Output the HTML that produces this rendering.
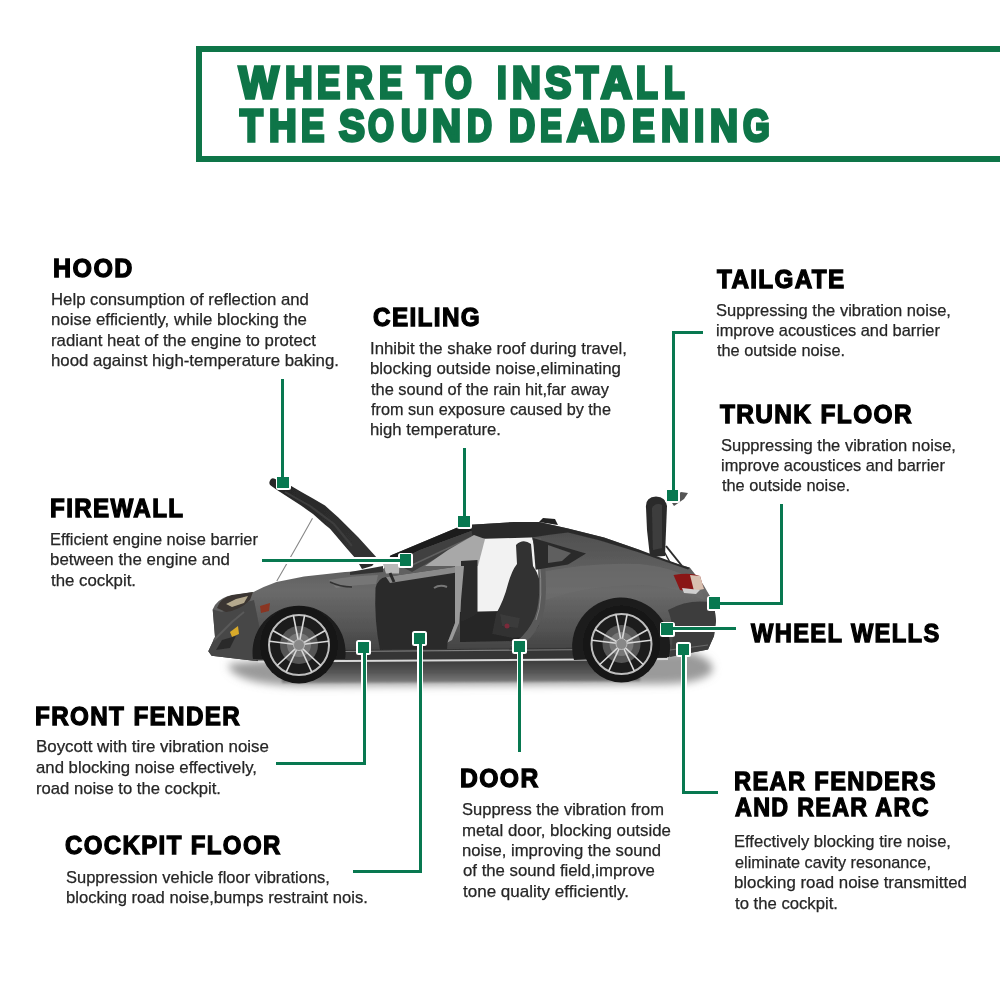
<!DOCTYPE html>
<html><head><meta charset="utf-8">
<style>
html,body{margin:0;padding:0;background:#fff;}
body{width:1000px;height:1000px;position:relative;overflow:hidden;font-family:"Liberation Sans",sans-serif;}
.t{position:absolute;white-space:pre;line-height:1;transform-origin:0 0;}
.box{position:absolute;left:196px;top:46px;width:820px;height:104px;border:6px solid #0e7548;}
.ln{position:absolute;background:#087850;}
.wo{position:absolute;background:#fff;}
svg.car{position:absolute;left:0;top:0;}
</style></head>
<body>
<div class="box"></div>
<svg class="car" width="1000" height="1000" viewBox="0 0 1000 1000">
<defs>
<linearGradient id="shadow" gradientUnits="userSpaceOnUse" x1="0" y1="658" x2="0" y2="686">
<stop offset="0" stop-color="#383838"/><stop offset="0.5" stop-color="#555"/><stop offset="0.85" stop-color="#7a7a7a"/><stop offset="1" stop-color="#aaa"/>
</linearGradient>
<linearGradient id="shadowF" gradientUnits="userSpaceOnUse" x1="215" y1="0" x2="265" y2="0">
<stop offset="0" stop-color="#fff"/><stop offset="1" stop-color="#fff" stop-opacity="0"/>
</linearGradient>
<linearGradient id="body" gradientUnits="userSpaceOnUse" x1="0" y1="520" x2="0" y2="662">
<stop offset="0" stop-color="#4a4a4a"/>
<stop offset="0.3" stop-color="#5c5c5c"/>
<stop offset="0.5" stop-color="#6a6a6a"/>
<stop offset="0.75" stop-color="#555"/>
<stop offset="1" stop-color="#3a3a3a"/>
</linearGradient>
<linearGradient id="hood" gradientUnits="userSpaceOnUse" x1="270" y1="480" x2="378" y2="558">
<stop offset="0" stop-color="#262626"/><stop offset="1" stop-color="#333"/>
</linearGradient>
<radialGradient id="rimbg" cx="0.5" cy="0.5" r="0.5">
<stop offset="0" stop-color="#6a6a6a"/><stop offset="0.45" stop-color="#4a4a4a"/><stop offset="0.8" stop-color="#1e1e1e"/><stop offset="1" stop-color="#151515"/>
</radialGradient>
<filter id="blur4" x="-20%" y="-50%" width="140%" height="200%"><feGaussianBlur stdDeviation="4"/></filter>
<filter id="blur1" x="-10%" y="-50%" width="120%" height="200%"><feGaussianBlur stdDeviation="1.2"/></filter>
<filter id="soft" x="-5%" y="-5%" width="110%" height="110%"><feGaussianBlur stdDeviation="0.5"/></filter>
<g id="wheel">
<circle r="38.5" fill="#141414"/>
<circle r="31" fill="#1c1c1c"/>
<circle r="19" fill="#555"/>
<circle r="12" fill="#777"/>
<circle r="30" fill="none" stroke="#bdbdbd" stroke-width="2"/>
<g stroke="#d8d8d8" stroke-width="1.6" stroke-linecap="round">
<g id="sp"><line x1="-0.8" y1="-5" x2="-5.5" y2="-29"/><line x1="0.8" y1="-5" x2="5.5" y2="-29"/></g>
<use href="#sp" transform="rotate(72)"/><use href="#sp" transform="rotate(144)"/><use href="#sp" transform="rotate(216)"/><use href="#sp" transform="rotate(288)"/>
</g>
<circle r="5.5" fill="#888" stroke="#bbb" stroke-width="1"/>
</g>
</defs>
<g filter="url(#soft)">
<!-- ground shadow -->
<path d="M228 664 Q300 656 420 658 L690 652 Q716 660 712 672 Q700 684 660 684 L300 686 Q232 684 228 664 Z" fill="#9a9a9a" filter="url(#blur4)"/>
<path d="M282 660 L640 656 L640 681 L282 683 Z" fill="url(#shadow)" filter="url(#blur1)"/>
<!-- hood strut -->
<path d="M312.5 518.3 Q296 548 276.8 581" stroke="#888" stroke-width="1.1" fill="none"/>
<!-- raised hood -->
<path d="M269.8 481 Q271 477.5 274 478.6 L290.8 485.8 L301 491.8 L313 498.4 L325 505.6 L338.4 517.6 L358 537 L378 559 L356 559 L346.8 548.4 L330 528.8 L325 524.8 L313 514 L301 505.6 L289 497.8 L277 490 L271 485.8 Q268.5 484 269.8 481 Z" fill="url(#hood)"/>
<path d="M285 492 L310 506 L334 524 L352 546" stroke="#3e3e3e" stroke-width="2" fill="none"/>
<!-- trunk lid raised + struts -->
<path d="M666 546 L682 566" stroke="#2a2a2a" stroke-width="2"/>
<path d="M660 544 L672 566" stroke="#2a2a2a" stroke-width="1.5"/>
<path d="M646 508 Q645 497 656 496.5 Q666 497 667 506 L665 556 L650 557 L647 530 Z" fill="#2c2c2c"/>
<path d="M652 508 Q656 502 662 505 L662 548 L653 550 Z" fill="#3e3e3e"/>
<path d="M670 500 L681 492 L688 493 L684 499 L674 506 Z" fill="#555"/>
<!-- main body -->
<path d="M208.3 651.3 L215 637 L212.7 609.5 Q216 600 228 596 L253.4 592 Q265 586 276.5 582 L304 576.5 L345 572 L383 570 L390.5 555.5 L455 528.5 Q462 525 470.8 524.8 L514 522 L539 522 L568 528.4 L604 537.4 L640 550 L652.5 556.5 L678 564 L690 567.7 L703.5 585 L714 603 L716 621 L714 636 L708 649.5 L667.5 657 L575 660 L345 662 L256 661 L211.6 655.7 Z" fill="url(#body)"/>
<!-- shoulder highlight rear -->
<path d="M541 572 Q590 562 640 564 Q680 568 700 585 L704 600 Q670 585 640 585 Q590 585 545 600 Z" fill="#6e6e6e" opacity="0.6"/>
<!-- front face darker -->
<path d="M208.3 651.3 L215 637 L212.7 609.5 L222 612 L240 604 L254 600 L262 640 L256 661 L211.6 655.7 Z" fill="#474747"/>
<path d="M214 640 L232 622 L244 612" stroke="#5a5a5a" stroke-width="2" fill="none"/>
<!-- headlight -->
<path d="M217 608 Q220 598 232 595 L253 592 L250 600 Q240 610 226 612 Z" fill="#3a3530"/>
<path d="M226 604 L236 599 L248 596 L244 603 L232 607 Z" fill="#b5a98e"/>
<!-- fog & marker -->
<path d="M230 632 L238 626 L239 634 L232 637 Z" fill="#d9aa2a"/>
<path d="M222 640 L236 636 L230 648 L216 650 Z" fill="#2a2a2a"/>
<path d="M260 606 L270 603 L269 611 L261 613 Z" fill="#8a3520"/>
<!-- front fender vent line -->
<path d="M329 580 Q350 576 378 575 L376 584 Q352 585 336 588 Z" fill="#7a7a7a" opacity="0.8"/><path d="M330 582 Q340 587 352 587" stroke="#333" stroke-width="1.5" fill="none"/>
<!-- rear bumper -->
<path d="M668 610 Q690 598 714 603 L716 621 L714 636 L708 649.5 L670 657 Q676 630 668 610 Z" fill="#3e3e3e"/>
<path d="M670 650 L708 645" stroke="#888" stroke-width="1" opacity="0.6"/>
<!-- tail light -->
<path d="M673.5 575 Q690 572 700 576 L703.5 588 Q690 592 680 590 Z" fill="#8a1818"/>
<path d="M690 575 L700 576 L704 589 L694 591 Z" fill="#d8c0b0"/><path d="M682 588 L700 590 L696 594 L684 593 Z" fill="#cfcfcf"/>
<!-- A pillar & windshield -->
<path d="M383 570 L390.5 555.5 L455 528.5 Q462 525 470.8 524.8 L474 530 L420 550 L394 563 Z" fill="#1e1e1e"/>
<path d="M394 563 L420 550 L474 530 L478 540 L440 556 L412 572 Z" fill="#404040"/>
<path d="M410 566 L470 538" stroke="#606060" stroke-width="1.5"/>
<!-- roof band -->
<path d="M470.8 524.8 L514 522 L539 522 L568 528.4 L604 537.4 L640 550 L678 564 L690 567.7 L688 569.5 L640 552.8 L600 540.5 L568 532.5 L548 535 L532 537.5 L473 540 Z" fill="#2c2c2c"/>
<path d="M539 522 L543 518 L555 519 L558 525 Z" fill="#222"/>
<!-- door opening -->
<path d="M476 539 L532 537.5 L538 560 L539 612 L476 614 Z" fill="#f2f2f2"/>
<!-- interior floor -->
<path d="M460 612 L540 610 L530 634 L514 641 L460 642 Z" fill="#262626"/>
<!-- seat -->
<path d="M516 545 Q523 538 531 544 L533 566 Q542 578 541 600 L539 625 Q533 638 512 638 L492 634 L496 614 Q504 600 508 584 Q512 570 517 564 Z" fill="#303030"/>
<path d="M500 614 L520 618 L518 628 L502 626 Z" fill="#3a3a3a"/>
<circle cx="507" cy="626" r="2.5" fill="#7a2a3a"/>
<!-- door jamb C -->
<path d="M532 537.5 L541 538 Q546 560 546 590 Q546 630 520 646 L510 646 Q538 628 539 595 Q540 560 532 537.5 Z" fill="#5a5a5a"/>
<path d="M539 560 Q544 600 536 620" stroke="#888" stroke-width="1" fill="none"/>
<!-- rear quarter window -->
<path d="M533 538 L586 553.6 L568 564.4 L535.6 569.8 Z" fill="#2a2a2a"/>
<path d="M548 545 L571 553 L562 561 L548 563 Z" fill="#5e5e5e"/>
<!-- open door glass -->
<path d="M425 566 L448 550 L474 535 L485 539 L478 566 Z" fill="#a8a8a8"/>
<path d="M461 561 L477.5 560 L477.5 614 L461 622 Z" fill="#2a2a2a"/>
<!-- open door panel -->
<path d="M375.5 588 Q378 578 386 577 L461 566 L455 623 L447.5 642.5 L447 649 L380 650 Q374 620 375.5 588 Z" fill="#2a2a2a"/>
<path d="M386 577 L461 566 L460 572 L390 583 Z" fill="#8a8a8a"/>
<path d="M455 566 L464 566 L459 623 L452 640 L447.5 642.5 L455 623 Z" fill="#9a9a9a"/>
<path d="M434 588 Q440 584 447 587" stroke="#777" stroke-width="2" fill="none"/>
<!-- mirror -->
<path d="M383 564 Q390 562 399.5 563 L399 573.5 L386 573.5 Z" fill="#b8b8b8"/>
<path d="M390 573 L394 582" stroke="#2a2a2a" stroke-width="3"/>
<!-- cowl/wipers -->
<path d="M350 572 L383 566 L383 572 L350 575 Z" fill="#333"/><path d="M356 559 L362 569 L372 566 L378 559 Z" fill="#2a2a2a"/>
<!-- sill -->
<path d="M345 650 L667 647 L667 658 L575 660 L345 662 Z" fill="#343434"/>
<path d="M345 651.5 L667 649" stroke="#808080" stroke-width="1.2"/>
<path d="M258 661.5 L668 659" stroke="#d8d8d8" stroke-width="2"/>
<!-- wheel arches -->
<path d="M253 659 A46.5 46.5 0 1 1 345 659 Z" fill="#1a1a1a"/>
<path d="M574 660 A49 49 0 1 1 669 657 Z" fill="#1e1e1e"/>
<use href="#wheel" transform="translate(299 645)"/>
<use href="#wheel" transform="translate(621.5 644)"/>
</g>
</svg>

<div class="wo" style="left:279.60px;top:377.70px;width:6.20px;height:105.90px"></div>
<div class="wo" style="left:275.50px;top:475.00px;width:15.00px;height:15.00px;border-radius:2.5px"></div>
<div class="wo" style="left:461.20px;top:446.40px;width:6.20px;height:76.20px"></div>
<div class="wo" style="left:456.50px;top:514.20px;width:15.00px;height:15.00px;border-radius:2.5px"></div>
<div class="wo" style="left:260.40px;top:557.40px;width:147.70px;height:6.20px"></div>
<div class="wo" style="left:398.20px;top:552.50px;width:15.00px;height:15.00px;border-radius:2.5px"></div>
<div class="wo" style="left:669.90px;top:329.50px;width:34.20px;height:6.20px"></div>
<div class="wo" style="left:669.90px;top:329.40px;width:6.20px;height:167.20px"></div>
<div class="wo" style="left:665.20px;top:488.00px;width:15.00px;height:15.00px;border-radius:2.5px"></div>
<div class="wo" style="left:777.90px;top:502.40px;width:6.20px;height:103.70px"></div>
<div class="wo" style="left:712.40px;top:599.90px;width:71.70px;height:6.20px"></div>
<div class="wo" style="left:707.00px;top:595.50px;width:15.00px;height:15.00px;border-radius:2.5px"></div>
<div class="wo" style="left:665.40px;top:625.60px;width:72.20px;height:6.20px"></div>
<div class="wo" style="left:659.50px;top:621.50px;width:15.00px;height:15.00px;border-radius:2.5px"></div>
<div class="wo" style="left:680.65px;top:648.40px;width:6.20px;height:147.20px"></div>
<div class="wo" style="left:682.15px;top:789.40px;width:36.95px;height:6.20px"></div>
<div class="wo" style="left:676.25px;top:642.25px;width:15.00px;height:15.00px;border-radius:2.5px"></div>
<div class="wo" style="left:516.50px;top:644.40px;width:6.20px;height:109.20px"></div>
<div class="wo" style="left:512.00px;top:638.70px;width:15.00px;height:15.00px;border-radius:2.5px"></div>
<div class="wo" style="left:416.90px;top:636.40px;width:6.20px;height:238.50px"></div>
<div class="wo" style="left:351.40px;top:868.70px;width:71.70px;height:6.20px"></div>
<div class="wo" style="left:412.25px;top:631.10px;width:15.00px;height:15.00px;border-radius:2.5px"></div>
<div class="wo" style="left:360.90px;top:645.40px;width:6.20px;height:121.60px"></div>
<div class="wo" style="left:274.40px;top:760.80px;width:92.70px;height:6.20px"></div>
<div class="wo" style="left:356.20px;top:639.80px;width:15.00px;height:15.00px;border-radius:2.5px"></div>
<div class="ln" style="left:281.20px;top:379.30px;width:3.0px;height:102.70px"></div>
<div class="ln" style="left:277.40px;top:476.90px;width:11.2px;height:11.2px"></div>
<div class="ln" style="left:462.80px;top:448.00px;width:3.0px;height:73.00px"></div>
<div class="ln" style="left:458.40px;top:516.10px;width:11.2px;height:11.2px"></div>
<div class="ln" style="left:262.00px;top:559.00px;width:144.50px;height:3.0px"></div>
<div class="ln" style="left:400.10px;top:554.40px;width:11.2px;height:11.2px"></div>
<div class="ln" style="left:671.50px;top:331.10px;width:31.00px;height:3.0px"></div>
<div class="ln" style="left:671.50px;top:331.00px;width:3.0px;height:164.00px"></div>
<div class="ln" style="left:667.10px;top:489.90px;width:11.2px;height:11.2px"></div>
<div class="ln" style="left:779.50px;top:504.00px;width:3.0px;height:100.50px"></div>
<div class="ln" style="left:714.00px;top:601.50px;width:68.50px;height:3.0px"></div>
<div class="ln" style="left:708.90px;top:597.40px;width:11.2px;height:11.2px"></div>
<div class="ln" style="left:667.00px;top:627.20px;width:69.00px;height:3.0px"></div>
<div class="ln" style="left:661.40px;top:623.40px;width:11.2px;height:11.2px"></div>
<div class="ln" style="left:682.25px;top:650.00px;width:3.0px;height:144.00px"></div>
<div class="ln" style="left:683.75px;top:791.00px;width:33.75px;height:3.0px"></div>
<div class="ln" style="left:678.15px;top:644.15px;width:11.2px;height:11.2px"></div>
<div class="ln" style="left:518.10px;top:646.00px;width:3.0px;height:106.00px"></div>
<div class="ln" style="left:513.90px;top:640.60px;width:11.2px;height:11.2px"></div>
<div class="ln" style="left:418.50px;top:638.00px;width:3.0px;height:235.30px"></div>
<div class="ln" style="left:353.00px;top:870.30px;width:68.50px;height:3.0px"></div>
<div class="ln" style="left:414.15px;top:633.00px;width:11.2px;height:11.2px"></div>
<div class="ln" style="left:362.50px;top:647.00px;width:3.0px;height:118.40px"></div>
<div class="ln" style="left:276.00px;top:762.40px;width:89.50px;height:3.0px"></div>
<div class="ln" style="left:358.10px;top:641.70px;width:11.2px;height:11.2px"></div>

<div class="t" style="left:53.00px;top:255.37px;font-size:26.5px;font-weight:bold;color:#000;transform:scaleX(0.9445);-webkit-text-stroke:1.3px #000;letter-spacing:1.5px;">HOOD</div>
<div class="t" style="left:373.00px;top:304.07px;font-size:26.5px;font-weight:bold;color:#000;transform:scaleX(0.9158);-webkit-text-stroke:1.3px #000;letter-spacing:1.5px;">CEILING</div>
<div class="t" style="left:717.00px;top:265.98px;font-size:26.5px;font-weight:bold;color:#000;transform:scaleX(0.9149);-webkit-text-stroke:1.3px #000;letter-spacing:1.5px;">TAILGATE</div>
<div class="t" style="left:720.00px;top:400.98px;font-size:26.5px;font-weight:bold;color:#000;transform:scaleX(0.9218);-webkit-text-stroke:1.3px #000;letter-spacing:1.5px;">TRUNK FLOOR</div>
<div class="t" style="left:50.00px;top:495.17px;font-size:26.5px;font-weight:bold;color:#000;transform:scaleX(0.9118);-webkit-text-stroke:1.3px #000;letter-spacing:1.5px;">FIREWALL</div>
<div class="t" style="left:751.00px;top:620.27px;font-size:26.5px;font-weight:bold;color:#000;transform:scaleX(0.8952);-webkit-text-stroke:1.3px #000;letter-spacing:1.5px;">WHEEL WELLS</div>
<div class="t" style="left:35.00px;top:702.58px;font-size:26.5px;font-weight:bold;color:#000;transform:scaleX(0.9141);-webkit-text-stroke:1.3px #000;letter-spacing:1.5px;">FRONT FENDER</div>
<div class="t" style="left:460.00px;top:764.98px;font-size:26.5px;font-weight:bold;color:#000;transform:scaleX(0.9321);-webkit-text-stroke:1.3px #000;letter-spacing:1.5px;">DOOR</div>
<div class="t" style="left:734.00px;top:768.08px;font-size:26.5px;font-weight:bold;color:#000;transform:scaleX(0.8931);-webkit-text-stroke:1.3px #000;letter-spacing:1.5px;">REAR FENDERS</div>
<div class="t" style="left:735.00px;top:794.08px;font-size:26.5px;font-weight:bold;color:#000;transform:scaleX(0.8787);-webkit-text-stroke:1.3px #000;letter-spacing:1.5px;">AND REAR ARC</div>
<div class="t" style="left:65.00px;top:832.27px;font-size:26.5px;font-weight:bold;color:#000;transform:scaleX(0.9072);-webkit-text-stroke:1.3px #000;letter-spacing:1.5px;">COCKPIT FLOOR</div>
<div class="t" style="left:51.00px;top:292.09px;font-size:16.6px;color:#262626;transform:scaleX(1.0094);-webkit-text-stroke:0.25px #262626;">Help consumption of reflection and</div>
<div class="t" style="left:51.00px;top:312.49px;font-size:16.6px;color:#262626;transform:scaleX(1.0151);-webkit-text-stroke:0.25px #262626;">noise efficiently, while blocking the</div>
<div class="t" style="left:51.00px;top:332.89px;font-size:16.6px;color:#262626;transform:scaleX(1.0111);-webkit-text-stroke:0.25px #262626;">radiant heat of the engine to protect</div>
<div class="t" style="left:51.00px;top:353.29px;font-size:16.6px;color:#262626;transform:scaleX(1.0133);-webkit-text-stroke:0.25px #262626;">hood against high-temperature baking.</div>
<div class="t" style="left:370.00px;top:341.09px;font-size:16.6px;color:#262626;transform:scaleX(1.0091);-webkit-text-stroke:0.25px #262626;">Inhibit the shake roof during travel,</div>
<div class="t" style="left:370.00px;top:361.39px;font-size:16.6px;color:#262626;transform:scaleX(1.0150);-webkit-text-stroke:0.25px #262626;">blocking outside noise,eliminating</div>
<div class="t" style="left:371.00px;top:381.69px;font-size:16.6px;color:#262626;transform:scaleX(0.9882);-webkit-text-stroke:0.25px #262626;">the sound of the rain hit,far away</div>
<div class="t" style="left:371.00px;top:401.99px;font-size:16.6px;color:#262626;transform:scaleX(0.9778);-webkit-text-stroke:0.25px #262626;">from sun exposure caused by the</div>
<div class="t" style="left:370.00px;top:422.29px;font-size:16.6px;color:#262626;transform:scaleX(1.0072);-webkit-text-stroke:0.25px #262626;">high temperature.</div>
<div class="t" style="left:716.00px;top:303.19px;font-size:16.6px;color:#262626;transform:scaleX(0.9948);-webkit-text-stroke:0.25px #262626;">Suppressing the vibration noise,</div>
<div class="t" style="left:716.00px;top:323.34px;font-size:16.6px;color:#262626;transform:scaleX(0.9870);-webkit-text-stroke:0.25px #262626;">improve acoustices and barrier</div>
<div class="t" style="left:717.00px;top:343.49px;font-size:16.6px;color:#262626;transform:scaleX(0.9840);-webkit-text-stroke:0.25px #262626;">the outside noise.</div>
<div class="t" style="left:721.00px;top:438.19px;font-size:16.6px;color:#262626;transform:scaleX(0.9948);-webkit-text-stroke:0.25px #262626;">Suppressing the vibration noise,</div>
<div class="t" style="left:721.00px;top:458.34px;font-size:16.6px;color:#262626;transform:scaleX(0.9870);-webkit-text-stroke:0.25px #262626;">improve acoustices and barrier</div>
<div class="t" style="left:722.00px;top:478.49px;font-size:16.6px;color:#262626;transform:scaleX(0.9840);-webkit-text-stroke:0.25px #262626;">the outside noise.</div>
<div class="t" style="left:50.00px;top:531.99px;font-size:16.6px;color:#262626;transform:scaleX(0.9901);-webkit-text-stroke:0.25px #262626;">Efficient engine noise barrier</div>
<div class="t" style="left:50.00px;top:552.39px;font-size:16.6px;color:#262626;transform:scaleX(1.0159);-webkit-text-stroke:0.25px #262626;">between the engine and</div>
<div class="t" style="left:51.00px;top:572.79px;font-size:16.6px;color:#262626;transform:scaleX(1.0127);-webkit-text-stroke:0.25px #262626;">the cockpit.</div>
<div class="t" style="left:36.00px;top:739.49px;font-size:16.6px;color:#262626;transform:scaleX(1.0184);-webkit-text-stroke:0.25px #262626;">Boycott with tire vibration noise</div>
<div class="t" style="left:36.00px;top:760.29px;font-size:16.6px;color:#262626;transform:scaleX(1.0092);-webkit-text-stroke:0.25px #262626;">and blocking noise effectively,</div>
<div class="t" style="left:36.00px;top:781.09px;font-size:16.6px;color:#262626;transform:scaleX(1.0026);-webkit-text-stroke:0.25px #262626;">road noise to the cockpit.</div>
<div class="t" style="left:66.00px;top:869.89px;font-size:16.6px;color:#262626;transform:scaleX(0.9935);-webkit-text-stroke:0.25px #262626;">Suppression vehicle floor vibrations,</div>
<div class="t" style="left:66.00px;top:890.09px;font-size:16.6px;color:#262626;transform:scaleX(1.0010);-webkit-text-stroke:0.25px #262626;">blocking road noise,bumps restraint nois.</div>
<div class="t" style="left:462.00px;top:802.39px;font-size:16.6px;color:#262626;transform:scaleX(0.9951);-webkit-text-stroke:0.25px #262626;">Suppress the vibration from</div>
<div class="t" style="left:462.00px;top:822.74px;font-size:16.6px;color:#262626;transform:scaleX(1.0156);-webkit-text-stroke:0.25px #262626;">metal door, blocking outside</div>
<div class="t" style="left:462.00px;top:843.09px;font-size:16.6px;color:#262626;transform:scaleX(1.0031);-webkit-text-stroke:0.25px #262626;">noise, improving the sound</div>
<div class="t" style="left:463.00px;top:863.44px;font-size:16.6px;color:#262626;transform:scaleX(1.0100);-webkit-text-stroke:0.25px #262626;">of the sound field,improve</div>
<div class="t" style="left:463.00px;top:883.79px;font-size:16.6px;color:#262626;transform:scaleX(1.0260);-webkit-text-stroke:0.25px #262626;">tone quality efficiently.</div>
<div class="t" style="left:734.00px;top:834.39px;font-size:16.6px;color:#262626;transform:scaleX(0.9981);-webkit-text-stroke:0.25px #262626;">Effectively blocking tire noise,</div>
<div class="t" style="left:735.00px;top:854.89px;font-size:16.6px;color:#262626;transform:scaleX(0.9790);-webkit-text-stroke:0.25px #262626;">eliminate cavity resonance,</div>
<div class="t" style="left:734.00px;top:875.39px;font-size:16.6px;color:#262626;transform:scaleX(1.0142);-webkit-text-stroke:0.25px #262626;">blocking road noise transmitted</div>
<div class="t" style="left:735.00px;top:895.89px;font-size:16.6px;color:#262626;transform:scaleX(1.0057);-webkit-text-stroke:0.25px #262626;">to the cockpit.</div>
<div class="t" style="left:239.45px;top:60.88px;font-size:44.5px;font-weight:bold;color:#0e7548;transform:scaleX(0.9415);-webkit-text-stroke:3.4px #0e7548;">W</div>
<div class="t" style="left:285.45px;top:60.88px;font-size:44.5px;font-weight:bold;color:#0e7548;transform:scaleX(0.8596);-webkit-text-stroke:3.4px #0e7548;">H</div>
<div class="t" style="left:317.20px;top:60.88px;font-size:44.5px;font-weight:bold;color:#0e7548;transform:scaleX(0.7815);-webkit-text-stroke:3.4px #0e7548;">E</div>
<div class="t" style="left:345.70px;top:60.88px;font-size:44.5px;font-weight:bold;color:#0e7548;transform:scaleX(0.8369);-webkit-text-stroke:3.4px #0e7548;">R</div>
<div class="t" style="left:378.95px;top:60.88px;font-size:44.5px;font-weight:bold;color:#0e7548;transform:scaleX(0.7815);-webkit-text-stroke:3.4px #0e7548;">E</div>
<div class="t" style="left:416.95px;top:60.88px;font-size:44.5px;font-weight:bold;color:#0e7548;transform:scaleX(0.8805);-webkit-text-stroke:3.4px #0e7548;">T</div>
<div class="t" style="left:444.70px;top:60.88px;font-size:44.5px;font-weight:bold;color:#0e7548;transform:scaleX(0.7721);-webkit-text-stroke:3.4px #0e7548;">O</div>
<div class="t" style="left:497.45px;top:60.88px;font-size:44.5px;font-weight:bold;color:#0e7548;transform:scaleX(0.7835);-webkit-text-stroke:3.4px #0e7548;">I</div>
<div class="t" style="left:512.45px;top:60.88px;font-size:44.5px;font-weight:bold;color:#0e7548;transform:scaleX(0.8970);-webkit-text-stroke:3.4px #0e7548;">N</div>
<div class="t" style="left:544.95px;top:60.88px;font-size:44.5px;font-weight:bold;color:#0e7548;transform:scaleX(0.8865);-webkit-text-stroke:3.4px #0e7548;">S</div>
<div class="t" style="left:575.95px;top:60.88px;font-size:44.5px;font-weight:bold;color:#0e7548;transform:scaleX(0.8166);-webkit-text-stroke:3.4px #0e7548;">T</div>
<div class="t" style="left:600.70px;top:60.88px;font-size:44.5px;font-weight:bold;color:#0e7548;transform:scaleX(0.9576);-webkit-text-stroke:3.4px #0e7548;">A</div>
<div class="t" style="left:635.70px;top:60.88px;font-size:44.5px;font-weight:bold;color:#0e7548;transform:scaleX(0.7993);-webkit-text-stroke:3.4px #0e7548;">L</div>
<div class="t" style="left:664.20px;top:60.88px;font-size:44.5px;font-weight:bold;color:#0e7548;transform:scaleX(0.7560);-webkit-text-stroke:3.4px #0e7548;">L</div>
<div class="t" style="left:239.70px;top:103.88px;font-size:44.5px;font-weight:bold;color:#0e7548;transform:scaleX(0.8362);-webkit-text-stroke:3.4px #0e7548;">T</div>
<div class="t" style="left:268.95px;top:103.88px;font-size:44.5px;font-weight:bold;color:#0e7548;transform:scaleX(0.8596);-webkit-text-stroke:3.4px #0e7548;">H</div>
<div class="t" style="left:300.70px;top:103.88px;font-size:44.5px;font-weight:bold;color:#0e7548;transform:scaleX(0.7864);-webkit-text-stroke:3.4px #0e7548;">E</div>
<div class="t" style="left:338.95px;top:103.88px;font-size:44.5px;font-weight:bold;color:#0e7548;transform:scaleX(0.8723);-webkit-text-stroke:3.4px #0e7548;">S</div>
<div class="t" style="left:368.45px;top:103.88px;font-size:44.5px;font-weight:bold;color:#0e7548;transform:scaleX(0.7488);-webkit-text-stroke:3.4px #0e7548;">O</div>
<div class="t" style="left:400.70px;top:103.88px;font-size:44.5px;font-weight:bold;color:#0e7548;transform:scaleX(0.8094);-webkit-text-stroke:3.4px #0e7548;">U</div>
<div class="t" style="left:431.95px;top:103.88px;font-size:44.5px;font-weight:bold;color:#0e7548;transform:scaleX(0.9009);-webkit-text-stroke:3.4px #0e7548;">N</div>
<div class="t" style="left:466.70px;top:103.88px;font-size:44.5px;font-weight:bold;color:#0e7548;transform:scaleX(0.7770);-webkit-text-stroke:3.4px #0e7548;">D</div>
<div class="t" style="left:508.95px;top:103.88px;font-size:44.5px;font-weight:bold;color:#0e7548;transform:scaleX(0.8136);-webkit-text-stroke:3.4px #0e7548;">D</div>
<div class="t" style="left:540.45px;top:103.88px;font-size:44.5px;font-weight:bold;color:#0e7548;transform:scaleX(0.7320);-webkit-text-stroke:3.4px #0e7548;">E</div>
<div class="t" style="left:566.95px;top:103.88px;font-size:44.5px;font-weight:bold;color:#0e7548;transform:scaleX(0.9746);-webkit-text-stroke:3.4px #0e7548;">A</div>
<div class="t" style="left:599.70px;top:103.88px;font-size:44.5px;font-weight:bold;color:#0e7548;transform:scaleX(0.7770);-webkit-text-stroke:3.4px #0e7548;">D</div>
<div class="t" style="left:631.70px;top:103.88px;font-size:44.5px;font-weight:bold;color:#0e7548;transform:scaleX(0.7654);-webkit-text-stroke:3.4px #0e7548;">E</div>
<div class="t" style="left:660.70px;top:103.88px;font-size:44.5px;font-weight:bold;color:#0e7548;transform:scaleX(0.8703);-webkit-text-stroke:3.4px #0e7548;">N</div>
<div class="t" style="left:693.70px;top:103.88px;font-size:44.5px;font-weight:bold;color:#0e7548;transform:scaleX(0.8288);-webkit-text-stroke:3.4px #0e7548;">I</div>
<div class="t" style="left:709.70px;top:103.88px;font-size:44.5px;font-weight:bold;color:#0e7548;transform:scaleX(0.8703);-webkit-text-stroke:3.4px #0e7548;">N</div>
<div class="t" style="left:743.20px;top:103.88px;font-size:44.5px;font-weight:bold;color:#0e7548;transform:scaleX(0.7719);-webkit-text-stroke:3.4px #0e7548;">G</div>

</body></html>
